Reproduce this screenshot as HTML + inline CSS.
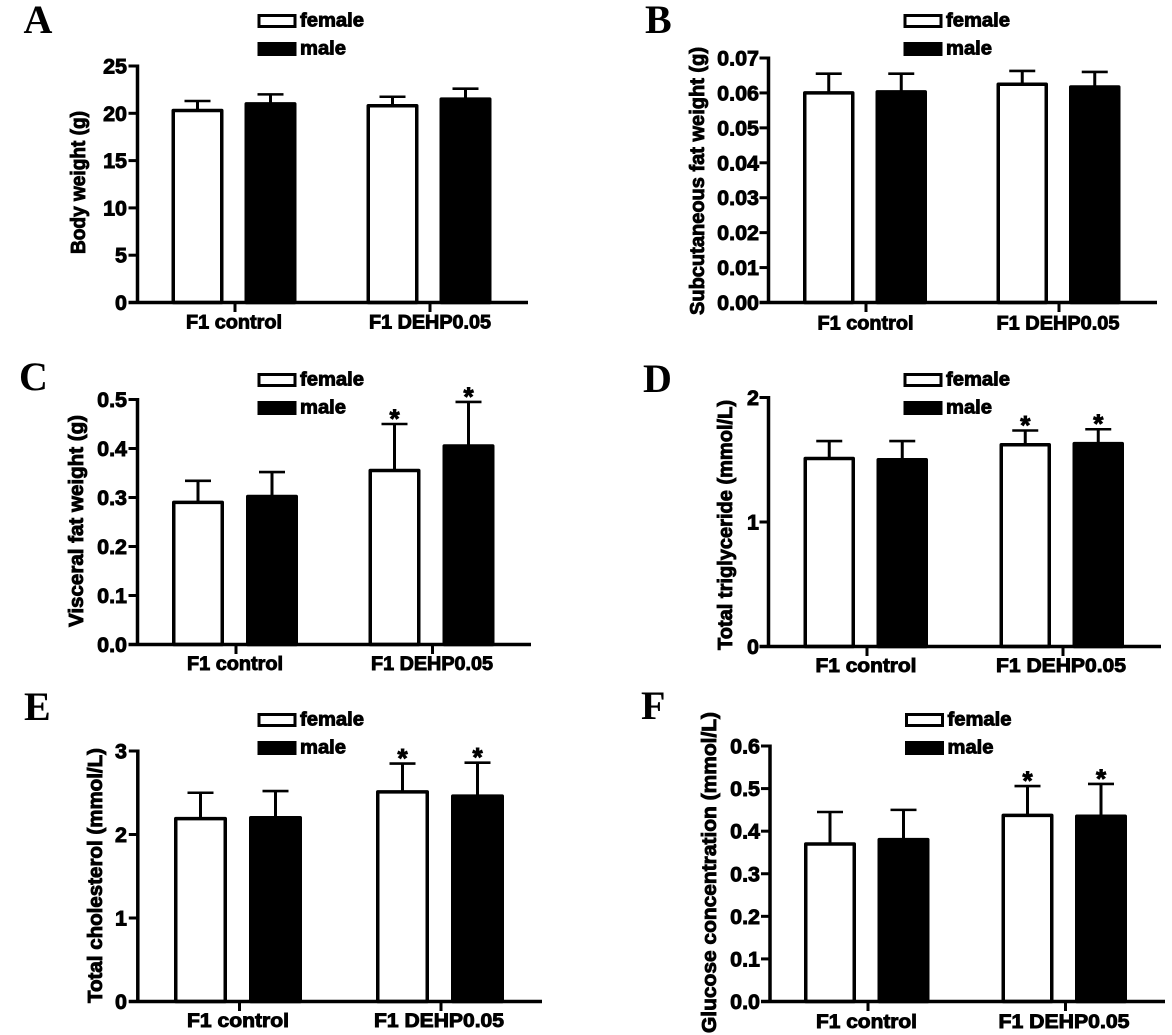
<!DOCTYPE html>
<html lang="en">
<head>
<meta charset="utf-8">
<title>Body weight, fat weight and serum lipid panels</title>
<style>
html,body{margin:0;padding:0;background:#fff;}
body{width:1172px;height:1035px;overflow:hidden;}
svg{display:block;}
text{fill:#000;}
.sans{font-family:"Liberation Sans",sans-serif;font-weight:700;stroke:#000;stroke-width:.9px;}
.letter{font-family:"Liberation Serif",serif;font-weight:700;font-size:40px;}
</style>
</head>
<body>
<svg id="figure" xmlns="http://www.w3.org/2000/svg" width="1172" height="1035" viewBox="0 0 1172 1035"></svg>
<script>
const categories = ['F1 control', 'F1 DEHP0.05'];
const seriesNames = ['female', 'male'];

const aTicks = ['0', '5', '10', '15', '20', '25'];
const aFemale = [20.3, 20.8];
const aMale = [21.0, 21.5];
const aFemaleUpper = [21.3, 21.75];
const aMaleUpper = [22.0, 22.6];
const aFemaleStars = [false, false];
const aMaleStars = [false, false];

const bTicks = ['0.00', '0.01', '0.02', '0.03', '0.04', '0.05', '0.06', '0.07'];
const bFemale = [0.0600, 0.0625];
const bMale = [0.0603, 0.0617];
const bFemaleUpper = [0.0655, 0.0663];
const bMaleUpper = [0.0655, 0.0660];
const bFemaleStars = [false, false];
const bMaleStars = [false, false];

const cTicks = ['0.0', '0.1', '0.2', '0.3', '0.4', '0.5'];
const cFemale = [0.290, 0.355];
const cMale = [0.302, 0.405];
const cFemaleUpper = [0.334, 0.450];
const cMaleUpper = [0.352, 0.495];
const cFemaleStars = [false, true];
const cMaleStars = [false, true];

const dTicks = ['0', '1', '2'];
const dFemale = [1.51, 1.62];
const dMale = [1.50, 1.63];
const dFemaleUpper = [1.65, 1.735];
const dMaleUpper = [1.65, 1.745];
const dFemaleStars = [false, true];
const dMaleStars = [false, true];

const eTicks = ['0', '1', '2', '3'];
const eFemale = [2.19, 2.51];
const eMale = [2.20, 2.46];
const eFemaleUpper = [2.50, 2.85];
const eMaleUpper = [2.52, 2.86];
const eFemaleStars = [false, true];
const eMaleStars = [false, true];

const fTicks = ['0.0', '0.1', '0.2', '0.3', '0.4', '0.5', '0.6'];
const fFemale = [0.370, 0.437];
const fMale = [0.380, 0.435];
const fFemaleUpper = [0.445, 0.506];
const fMaleUpper = [0.450, 0.511];
const fFemaleStars = [false, true];
const fMaleStars = [false, true];

const panels = [
  {id:'a', letter:'A', title:'Body weight (g)', ticks:aTicks, female:aFemale, male:aMale, femaleUpper:aFemaleUpper, maleUpper:aMaleUpper, femaleStars:aFemaleStars, maleStars:aMaleStars,
   axisX:137.5, axisEnd:528, y0:302.5, yTop:66, firstBar:171.5, barW:52, pairStep:73, groupStep:195, tick0:235, tickStep:195,
   letterX:23.5, letterY:33, titleX:85, titleTop:111, titleLen:143, labelTop:328.5, label0:234, label1:430, len0:96, len1:122, legendX:257.5, legendY:14, tickEnd:127},
  {id:'b', letter:'B', title:'Subcutaneous fat weight (g)', ticks:bTicks, female:bFemale, male:bMale, femaleUpper:bFemaleUpper, maleUpper:bMaleUpper, femaleStars:bFemaleStars, maleStars:bMaleStars,
   axisX:768.5, axisEnd:1157, y0:302.5, yTop:58, firstBar:803, barW:51.5, pairStep:72.5, groupStep:193.5, tick0:866, tickStep:193,
   letterX:645, letterY:33, titleX:704, titleTop:47, titleLen:268, labelTop:329.5, label0:865.5, label1:1058, len0:96, len1:123, legendX:903.5, legendY:14, tickEnd:759},
  {id:'c', letter:'C', title:'Visceral fat weight (g)', ticks:cTicks, female:cFemale, male:cMale, femaleUpper:cFemaleUpper, maleUpper:cMaleUpper, femaleStars:cFemaleStars, maleStars:cMaleStars,
   axisX:137.5, axisEnd:531, y0:644.5, yTop:399.5, firstBar:172, barW:52, pairStep:74, groupStep:196.5, tick0:236, tickStep:196.5,
   letterX:19, letterY:390, titleX:83, titleTop:415, titleLen:212, labelTop:670, label0:235, label1:432, len0:96, len1:122, legendX:257.5, legendY:373, tickEnd:127},
  {id:'d', letter:'D', title:'Total triglyceride (mmol/L)', ticks:dTicks, female:dFemale, male:dMale, femaleUpper:dFemaleUpper, maleUpper:dMaleUpper, femaleStars:dFemaleStars, maleStars:dMaleStars,
   axisX:768.5, axisEnd:1161, y0:646.5, yTop:397.5, firstBar:803.5, barW:51.5, pairStep:73, groupStep:196, tick0:867, tickStep:196,
   letterX:643, letterY:392, titleX:732, titleTop:400, titleLen:250, labelTop:672, label0:866, label1:1061, len0:101, len1:130, legendX:903.5, legendY:373, tickEnd:759},
  {id:'e', letter:'E', title:'Total cholesterol (mmol/L)', ticks:eTicks, female:eFemale, male:eMale, femaleUpper:eFemaleUpper, maleUpper:eMaleUpper, femaleStars:eFemaleStars, maleStars:eMaleStars,
   axisX:137.8, axisEnd:542, y0:1001.5, yTop:751, firstBar:174, barW:53, pairStep:75, groupStep:202, tick0:239.5, tickStep:201.5,
   letterX:24, letterY:720, titleX:102, titleTop:748, titleLen:255, labelTop:1027, label0:238, label1:439, len0:102, len1:130, legendX:257.5, legendY:713, tickEnd:127},
  {id:'f', letter:'F', title:'Glucose concentration (mmol/L)', ticks:fTicks, female:fFemale, male:fMale, femaleUpper:fFemaleUpper, maleUpper:fMaleUpper, femaleStars:fFemaleStars, maleStars:fMaleStars,
   axisX:770, axisEnd:1165, y0:1001.5, yTop:746, firstBar:804, barW:52, pairStep:73.5, groupStep:197.5, tick0:868, tickStep:197.5,
   letterX:641, letterY:719, titleX:716, titleTop:712, titleLen:321, labelTop:1028, label0:866.5, label1:1064, len0:101, len1:131, legendX:905, legendY:713, tickEnd:760}
];

const svgNS = 'http://www.w3.org/2000/svg';
const figure = document.getElementById('figure');

function make(parent, tag, attrs, content) {
  const el = document.createElementNS(svgNS, tag);
  for (const key in attrs) el.setAttribute(key, attrs[key]);
  if (content !== undefined) el.textContent = content;
  parent.appendChild(el);
  return el;
}

panels.forEach(function (p) {
  const maxValue = parseFloat(p.ticks[p.ticks.length - 1]);
  const yScale = function (v) { return p.y0 - (v / maxValue) * (p.y0 - p.yTop); };
  const barLeft = function (groupIndex, seriesIndex) {
    return p.firstBar + groupIndex * p.groupStep + seriesIndex * p.pairStep;
  };

  const g = make(figure, 'g', {});
  
  

  const letter = make(g, 'text', {x: p.letterX, y: p.letterY, class: 'letter'}, p.letter);
  
  

  seriesNames.forEach(function (name, s) {
    const boxY = p.legendY + s * 28;
    const swatch = make(g, 'rect', {x: p.legendX + 1.5, y: boxY + 1.5, width: 36, height: 11, fill: s === 0 ? '#fff' : '#000', stroke: '#000', 'stroke-width': 3});
    
    
    const label = make(g, 'text', {x: p.legendX + 42.5, y: boxY + 12.5, class: 'sans', 'font-size': 19.5, textLength: s === 0 ? 64 : 46, lengthAdjust: 'spacingAndGlyphs'}, name);
    
    
  });

  categories.forEach(function (cat, c) {
    const femaleSet = {values: p.female, upper: p.femaleUpper, stars: p.femaleStars};
    const maleSet = {values: p.male, upper: p.maleUpper, stars: p.maleStars};
    [femaleSet, maleSet].forEach(function (set, s) {
      const left = barLeft(c, s);
      const mid = left + p.barW / 2;
      const top = yScale(set.values[c]);
      const capY = yScale(set.upper[c]);

      const stem = make(g, 'line', {x1: mid, x2: mid, y1: top, y2: capY, stroke: '#000', 'stroke-width': 3});
      
      

      const cap = make(g, 'line', {x1: mid - 13, x2: mid + 13, y1: capY, y2: capY, stroke: '#000', 'stroke-width': 2.6});
      
      

      const bar = make(g, 'rect', {x: left + 1.75, y: top, width: p.barW - 3.5, height: p.y0 - top, fill: s === 0 ? '#fff' : '#000', stroke: '#000', 'stroke-width': 3.5, 'stroke-linejoin': 'round'});
      
      

      if (set.stars[c]) {
        const star = make(g, 'text', {x: mid, y: capY + 3.5, class: 'sans', 'font-size': 26, 'text-anchor': 'middle'}, '*');
        
        
      }
    });

    const tickX = p.tick0 + c * p.tickStep;
    const xTick = make(g, 'line', {x1: tickX, x2: tickX, y1: p.y0, y2: p.y0 + 9.5, stroke: '#000', 'stroke-width': 3});
    
    

    const cx = c === 0 ? p.label0 : p.label1;
    const len = c === 0 ? p.len0 : p.len1;
    const xLabel = make(g, 'text', {x: cx, y: p.labelTop, class: 'sans', 'font-size': 19, 'text-anchor': 'middle', textLength: len, lengthAdjust: 'spacingAndGlyphs'}, cat);
    
    
  });

  p.ticks.forEach(function (t) {
    const y = yScale(parseFloat(t));
    const yTick = make(g, 'line', {x1: p.axisX - 9, x2: p.axisX, y1: y, y2: y, stroke: '#000', 'stroke-width': 3});
    
    
    const yLabel = make(g, 'text', {x: p.tickEnd, y: y + 7.5, class: 'sans', 'font-size': 21.5, 'text-anchor': 'end'}, t);
    
    
  });

  const yAxis = make(g, 'line', {x1: p.axisX, x2: p.axisX, y1: p.yTop - 1.5, y2: p.y0 + 1.5, stroke: '#000', 'stroke-width': 3.5});
  
  

  const xAxis = make(g, 'line', {x1: p.axisX - 9, x2: p.axisEnd, y1: p.y0, y2: p.y0, stroke: '#000', 'stroke-width': 3.5});
  
  

  const titleY = p.titleTop + p.titleLen / 2;
  const title = make(g, 'text', {x: 0, y: 0, class: 'sans', 'font-size': 20, 'text-anchor': 'middle', textLength: p.titleLen, lengthAdjust: 'spacingAndGlyphs', transform: 'translate(' + p.titleX + ' ' + titleY + ') rotate(-90)'}, p.title);
  
  
});
</script>
</body>
</html>
